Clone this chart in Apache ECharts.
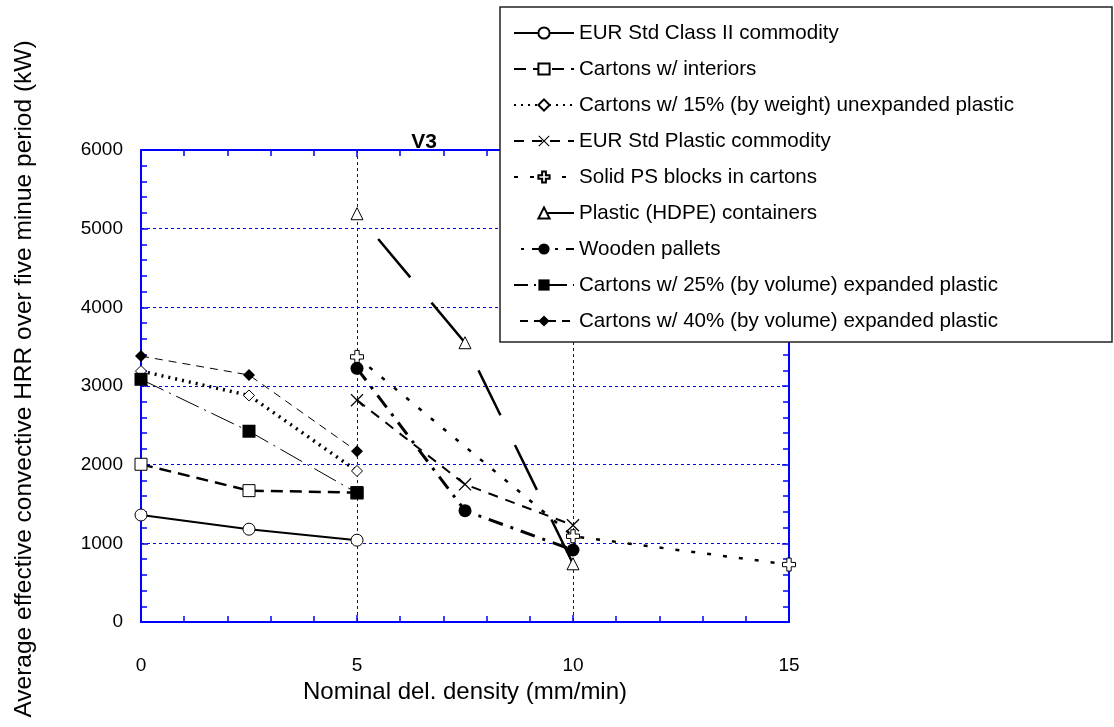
<!DOCTYPE html>
<html><head><meta charset="utf-8">
<script src="https://cdn.jsdelivr.net/npm/echarts@6/dist/echarts.min.js"></script>
<style>html,body{margin:0;padding:0;background:#fff}#c{width:1114px;height:727px}</style>
</head><body><div id="c"></div>
<script>
const seriesNames = [
  'EUR Std Class II commodity',
  'Cartons w/ interiors',
  'Cartons w/ 15% (by weight) unexpanded plastic',
  'EUR Std Plastic commodity',
  'Solid PS blocks in cartons',
  'Plastic (HDPE) containers',
  'Wooden pallets',
  'Cartons w/ 25% (by volume) expanded plastic',
  'Cartons w/ 40% (by volume) expanded plastic'
];
const xEURII = [0, 2.5, 5];          const yEURII = [1360, 1180, 1040];
const xInter = [0, 2.5, 5];          const yInter = [2005, 1670, 1645];
const x15 = [0, 2.5, 5];             const y15 = [3190, 2880, 1920];
const xEURPl = [5, 7.5, 10];         const yEURPl = [2820, 1750, 1230];
const xPS = [5, 10, 15];             const yPS = [3370, 1090, 730];
const xHDPE = [5, 7.5, 10];          const yHDPE = [5190, 3550, 740];
const xWood = [5, 7.5, 10];          const yWood = [3225, 1415, 915];
const x25 = [0, 2.5, 5];             const y25 = [3085, 2425, 1640];
const x40 = [0, 2.5, 5];             const y40 = [3380, 3140, 2170];
const xTicks = [0, 5, 10, 15];
const yTicks = [0, 1000, 2000, 3000, 4000, 5000, 6000];

const pts = (xs, ys) => xs.map((x, i) => [x, ys[i]]);
const PLUS = 'path://M-1,-3 L1,-3 L1,-1 L3,-1 L3,1 L1,1 L1,3 L-1,3 L-1,1 L-3,1 L-3,-1 L-1,-1 Z';
const XS = 'path://M0,0.7 L0.7,0 L5,4.3 L9.3,0 L10,0.7 L5.7,5 L10,9.3 L9.3,10 L5,5.7 L0.7,10 L0,9.3 L4.3,5 Z';
const BLUE = '#0000ff';
const open = {color: '#fff', borderColor: '#000', borderWidth: 1};
const filled = {color: '#000', borderColor: '#000', borderWidth: 0};

function mk(i, data, symbol, size, item, line) {
  return {
    name: seriesNames[i], type: 'line', data: data, symbol: symbol, symbolSize: size,
    itemStyle: item, lineStyle: Object.assign({color: '#000'}, line),
    animation: false, z: 3 + i, emphasis: {disabled: true}
  };
}

const series = [
  mk(0, pts(xEURII, yEURII), 'circle', 12, open, {width: 2, type: 'solid'}),
  mk(1, pts(xInter, yInter), 'rect', 12, open, {width: 2.5, type: [12, 7]}),
  mk(2, pts(x15, y15), 'diamond', 11, open, {width: 3.5, type: [2, 5]}),
  mk(3, pts(xEURPl, yEURPl), XS, 13, filled, {width: 2, type: [10, 8]}),
  mk(4, pts(xPS, yPS), PLUS, 13, open, {width: 2.5, type: [4, 12]}),
  mk(5, pts(xHDPE, yHDPE), 'triangle', 12, open, {width: 2.5, type: [50, 33], dashOffset: 50}),
  mk(6, pts(xWood, yWood), 'circle', 13, filled, {width: 3, type: [15, 8, 3, 8]}),
  mk(7, pts(x25, y25), 'rect', 13, filled, {width: 1, type: [25, 6, 2, 6]}),
  mk(8, pts(x40, y40), 'diamond', 12, filled, {width: 1, type: [8, 6]})
];

const chart = echarts.init(document.getElementById('c'), null, {renderer: 'canvas'});
const FONT = '"Liberation Sans", Arial, sans-serif';
const axisCommon = {
  axisLine: {show: true, onZero: false, lineStyle: {color: BLUE, width: 2}},
  axisTick: {show: true, inside: true, length: 7, lineStyle: {color: BLUE, width: 1.5}},
  minorTick: {show: true, splitNumber: 5, length: 6, lineStyle: {color: BLUE, width: 1.5}},
};
chart.setOption({
  backgroundColor: '#fff',
  animation: false,
  title: {text: 'V3', left: 419, top: 127, textAlign: 'center',
    textStyle: {fontFamily: FONT, fontSize: 21, fontWeight: 'bold', color: '#000'}},
  grid: {left: 141, right: 1114 - 789, top: 150, bottom: 727 - 622, containLabel: false},
  legend: {
    orient: 'vertical', left: 500, top: 7,
    backgroundColor: '#fff', borderColor: '#222', borderWidth: 1.5,
    padding: [15, 98, 10, 13], itemGap: 14, itemWidth: 60, itemHeight: 14,
    textStyle: {fontFamily: FONT, fontSize: 20.6, color: '#000', lineHeight: 22},
    data: seriesNames, z: 20, selectedMode: false
  },
  xAxis: [
    Object.assign({type: 'value', min: 0, max: 15, interval: 5, position: 'bottom',
      name: 'Nominal del. density (mm/min)', nameLocation: 'middle', nameGap: 55,
      nameTextStyle: {fontFamily: FONT, fontSize: 24, color: '#000'},
      axisLabel: {margin: 34, fontFamily: FONT, fontSize: 19, color: '#000',
        formatter: v => xTicks.includes(v) ? String(v) : ''},
      splitLine: {show: true, lineStyle: {color: BLUE, type: [3, 3], width: 1}}}, axisCommon),
    Object.assign({type: 'value', min: 0, max: 15, interval: 5, position: 'top',
      axisLabel: {show: false}, splitLine: {show: false}}, axisCommon)
  ],
  yAxis: [
    Object.assign({type: 'value', min: 0, max: 6000, interval: 1000, position: 'left',
      name: 'Average effective convective HRR over five minue period (kW)',
      nameLocation: 'middle', nameGap: 104, nameRotate: 90,
      nameTextStyle: {fontFamily: FONT, fontSize: 24.5, color: '#000', padding: [0, 0, 0, 14]},
      axisLabel: {margin: 18, fontFamily: FONT, fontSize: 19, color: '#000',
        formatter: v => yTicks.includes(v) ? String(v) : ''},
      splitLine: {show: true, lineStyle: {color: BLUE, type: [3, 3], width: 1}}}, axisCommon),
    Object.assign({type: 'value', min: 0, max: 6000, interval: 1000, position: 'right',
      axisLabel: {show: false}, splitLine: {show: false}}, axisCommon)
  ],
  series: series
});
</script></body></html>
